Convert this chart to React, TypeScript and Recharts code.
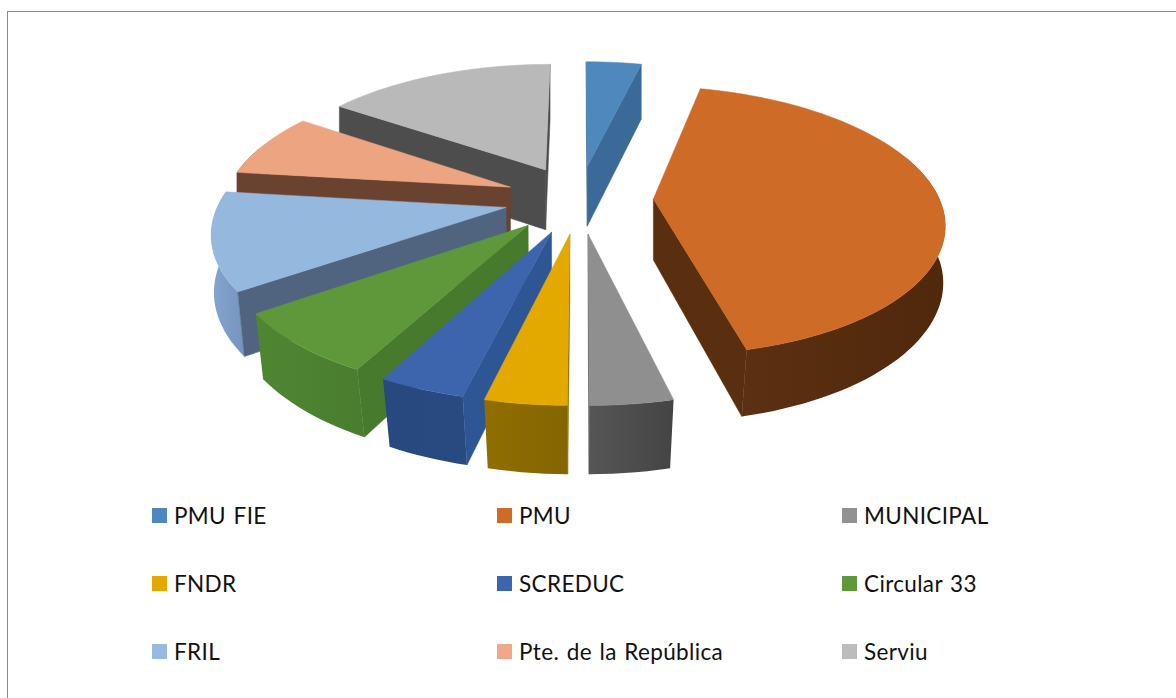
import React from 'react';
import { PieChart, Pie, Cell, Legend } from 'recharts';

// Legend order (clockwise from the top of the pie)
const legendNames = ['PMU FIE', 'PMU', 'MUNICIPAL', 'FNDR', 'SCREDUC', 'Circular 33', 'FRIL', 'Pte. de la República', 'Serviu'];
// Share of the whole, in percent, same order
const legendShares = [3.7, 42.5, 3.8, 3.75, 4.0, 7.5, 11.6, 7.7, 15.4];

const topColors: Record<string, string> = {
  'PMU FIE': '#4f88bd', PMU: '#cd6b27', MUNICIPAL: '#8f8f8f', FNDR: '#e3a900', SCREDUC: '#3d65ad',
  'Circular 33': '#5f983a', FRIL: '#95b8df', 'Pte. de la República': '#eda481', Serviu: '#b9b9b9',
};
const legendColors: Record<string, string> = {
  ...topColors, MUNICIPAL: '#919191', FRIL: '#98b9e0', 'Pte. de la República': '#f1a88a', Serviu: '#bcbcbc',
};
const cutColors: Record<string, string> = {
  'PMU FIE': '#3b6a99', PMU: '#5a2f10', MUNICIPAL: '#555555', FNDR: '#8a6a00', SCREDUC: '#2e5594',
  'Circular 33': '#477a2c', FRIL: '#50647f', 'Pte. de la República': '#6a4230', Serviu: '#4d4d4d',
};
const rimLeftColors: Record<string, string> = {
  'PMU FIE': '#3b6a99', PMU: '#5c3012', MUNICIPAL: '#565656', FNDR: '#906e00', SCREDUC: '#27497f',
  'Circular 33': '#4f8632', FRIL: '#86a5cf', 'Pte. de la República': '#6a4230', Serviu: '#4d4d4d',
};
const rimRightColors: Record<string, string> = {
  'PMU FIE': '#3b6a99', PMU: '#50280c', MUNICIPAL: '#444444', FNDR: '#846500', SCREDUC: '#274a80',
  'Circular 33': '#4a7d2f', FRIL: '#7494bd', 'Pte. de la República': '#6a4230', Serviu: '#4d4d4d',
};

// Painted back to front on the left, so the table runs counter-clockwise from the top
const paintOrder = legendNames.map((name, i) => ({ name, value: legendShares[i] })).reverse();

const EXPLODE = 0.26;
const PERSPECTIVE = 0.16;
const SQUASH = 131 / 286;
const DEPTH = 61;
const rad = (d: number) => (d * Math.PI) / 180;

function Slice3D(props: any) {
  const { cx, cy, outerRadius: R, startAngle, endAngle, midAngle, name, fill } = props;
  const label = name ?? props.payload?.name;
  const mid = 90 - (midAngle ?? (startAngle + endAngle) / 2);
  const ex = EXPLODE * Math.sin(rad(mid));
  const ey = EXPLODE * Math.cos(rad(mid));
  const project = (t: number, rho: number, low: boolean) => {
    const u = ex + rho * Math.sin(rad(t));
    const v = ey + rho * Math.cos(rad(t));
    const s = 1 / (1 + PERSPECTIVE * v);
    const h = low ? DEPTH / (1 + 0.09 * v) : 0;
    const converge = low ? 1 - 0.03 * Math.max(0, -v) : 1;
    return [cx + R * u * s * converge, cy - R * SQUASH * v * s + h];
  };
  const t0 = 90 - startAngle;
  const t1 = 90 - endAngle;
  const N = Math.max(4, Math.ceil(Math.abs(t1 - t0) / 2));
  const ts = Array.from({ length: N + 1 }, (_, i) => t0 + ((t1 - t0) * i) / N);
  const arcTop = ts.map((t) => project(t, 1, false));
  const arcLow = ts.map((t) => project(t, 1, true));
  const apexTop = project(mid, 0, false);
  const apexLow = project(mid, 0, true);
  const path = (pts: number[][]) => 'M' + pts.map((p) => `${p[0].toFixed(2)},${p[1].toFixed(2)}`).join('L') + 'Z';
  const midTop = project(mid, 1, false);
  const cutVisible = (corner: number[]) => {
    const dx = corner[0] - apexTop[0];
    const dy = corner[1] - apexTop[1];
    if (Math.abs(dx) < 0.001) return false;
    const lineY = apexTop[1] + (dy / dx) * (midTop[0] - apexTop[0]);
    return midTop[1] < lineY;
  };
  const corners = [
    [arcTop[0], arcLow[0]],
    [arcTop[N], arcLow[N]],
  ];
  const rimIdx = ts.map((_, i) => i).filter((i) => Math.cos(rad(ts[i])) < 0.35);
  const rimPath = rimIdx.length > 1 ? path([...rimIdx.map((i) => arcTop[i]), ...rimIdx.slice().reverse().map((i) => arcLow[i])]) : null;
  const cut = cutColors[label];
  const gradId = 'rim' + legendNames.indexOf(label);
  return (
    <g>
      <defs>
        <linearGradient id={gradId} x1="0" y1="0" x2="1" y2="0">
          <stop offset="0" stopColor={rimLeftColors[label]} />
          <stop offset="1" stopColor={rimRightColors[label]} />
        </linearGradient>
      </defs>
      {rimPath ? <path d={rimPath} fill={`url(#${gradId})`} /> : null}
      {corners.map(([top, low], i) =>
        cutVisible(top) ? <path key={i} d={path([apexTop, top, low, apexLow])} fill={cut} stroke={cut} strokeWidth={0.5} /> : null,
      )}
      <path d={path([apexTop, ...arcTop])} fill={fill} stroke={fill} strokeWidth={0.5} />
    </g>
  );
}

function GridLegend() {
  const cols = [152, 497, 842];
  const rows = [515.5, 583.5, 651.5];
  return (
    <div style={{ position: 'absolute', left: 0, top: 0, width: 1176, height: 698 }}>
      {legendNames.map((n, i) => {
        const x = cols[i % 3];
        const y = rows[Math.floor(i / 3)];
        return (
          <div key={n}>
            <div style={{ position: 'absolute', left: x, top: y - 7.5, width: 15, height: 15, background: legendColors[n] }} />
            <div style={{ position: 'absolute', left: x + 22, top: y - 16, height: 32, lineHeight: '32px', fontFamily: 'Lato, sans-serif', fontSize: 22.5, letterSpacing: 0.35, wordSpacing: 1.5, color: '#111', whiteSpace: 'nowrap' }}>{n}</div>
          </div>
        );
      })}
    </div>
  );
}

export default function App() {
  return (
    <div style={{ position: 'absolute', left: 0, top: 0, width: 1176, height: 698, background: '#fff', overflow: 'hidden' }}>
      <div style={{ position: 'absolute', left: 7, top: 11, width: 1169, height: 1, background: '#8c8c8c' }} />
      <div style={{ position: 'absolute', left: 7, top: 11, width: 1, height: 687, background: '#8c8c8c' }} />
      <PieChart width={1176} height={698} margin={{ top: 0, right: 0, bottom: 0, left: 0 }}>
        <Pie
          data={paintOrder}
          dataKey="value"
          nameKey="name"
          cx={579}
          cy={199}
          outerRadius={286}
          startAngle={90}
          endAngle={450}
          stroke="none"
          label={false}
          labelLine={false}
          isAnimationActive={false}
          shape={Slice3D}
        >
          {paintOrder.map((d) => (
            <Cell key={d.name} fill={topColors[d.name]} />
          ))}
        </Pie>
        <Legend content={() => <GridLegend />} wrapperStyle={{ position: 'absolute', left: 0, top: 0, width: 1176, height: 698 }} />
      </PieChart>
    </div>
  );
}
